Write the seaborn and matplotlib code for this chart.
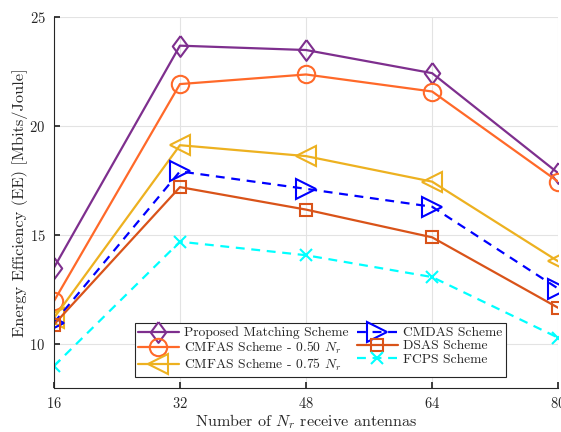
import matplotlib
matplotlib.use("Agg")
import matplotlib.pyplot as plt
import seaborn as sns
import pandas as pd

antennas = [16, 32, 48, 64, 80]
proposed = [13.5, 23.68, 23.48, 22.42, 17.84]
cmfas_050 = [11.97, 21.92, 22.36, 21.58, 17.45]
cmfas_075 = [11.2, 19.12, 18.62, 17.45, 13.8]
cmdas = [10.98, 17.92, 17.12, 16.3, 12.55]
dsas = [10.9, 17.2, 16.17, 14.9, 11.67]
fcps = [9.0, 14.7, 14.08, 13.08, 10.3]

labels = ["Proposed Matching Scheme", r"CMFAS Scheme - 0.50 $N_r$",
          r"CMFAS Scheme - 0.75 $N_r$", "CMDAS Scheme", "DSAS Scheme", "FCPS Scheme"]
series = [proposed, cmfas_050, cmfas_075, cmdas, dsas, fcps]

sns.set_theme(style="whitegrid")
plt.rcParams["font.family"] = ["cmr10", "DejaVu Serif"]
plt.rcParams["mathtext.fontset"] = "cm"
plt.rcParams["axes.formatter.use_mathtext"] = True

diamond = [(0, 1), (0.74, 0), (0, -1), (-0.74, 0), (0, 1)]
colors = ["#7E2F8E", "#FF6929", "#EDB120", "#0000FF", "#D95319", "#00FFFF"]
markers = [diamond, "o", "<", ">", "s", "x"]
msizes = [15, 12.5, 15, 15, 9, 9]
styles = ["-", "-", "-", (0, (4, 3)), "-", (0, (4, 3))]

fig = plt.figure(figsize=(5.61, 4.32), dpi=100)
ax = fig.add_axes([0.096, 0.102, 0.899, 0.859])

for lab, vals, c, m, ms, ls in zip(labels, series, colors, markers, msizes, styles):
    df = pd.DataFrame({"x": antennas, "y": vals})
    sns.lineplot(data=df, x="x", y="y", ax=ax, color=c, marker=m, markersize=ms,
                 markerfacecolor="none", markeredgecolor=c, markeredgewidth=1.5,
                 linewidth=1.6, linestyle=ls, label=lab)

ax.set_xlim(16, 80)
ax.set_ylim(8, 25)
ax.set_xticks(antennas)
ax.set_yticks([10, 15, 20, 25])
ax.set_xlabel(r"Number of $N_r$ receive antennas", fontsize=11.6, labelpad=1)
ax.set_ylabel("Energy Efficiency (EE) [Mbits/Joule]", fontsize=11.8, labelpad=1)
ax.tick_params(axis="both", labelsize=10.5, direction="in", length=4, color="#262626",
               left=True, bottom=True, pad=6)
ax.grid(True, color="#E3E3E3", linewidth=0.8)
for s in ["top", "right"]:
    ax.spines[s].set_visible(False)
for s in ["left", "bottom"]:
    ax.spines[s].set_color("#262626")
    ax.spines[s].set_linewidth(0.8)
ax.set_facecolor("white")

leg = ax.legend(loc="lower center", bbox_to_anchor=(0.528, 0.012), ncol=2, fontsize=9.8,
                frameon=True, fancybox=False, edgecolor="#262626", framealpha=1,
                handlelength=3.0, columnspacing=0.6, handletextpad=0.4,
                labelspacing=0.05, borderpad=0.25)
leg.get_frame().set_linewidth(0.8)

fig.savefig("out.png", dpi=100)
